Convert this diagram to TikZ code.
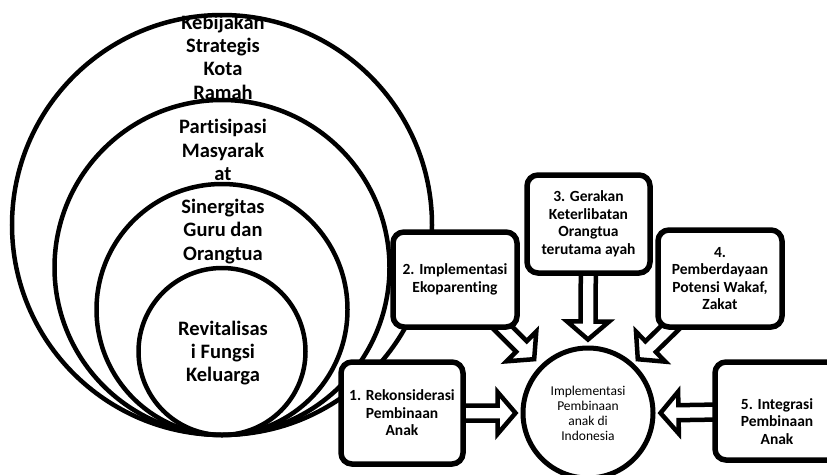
\documentclass[tikz,border=0pt]{standalone}
\usepackage{fontspec}
\setmainfont{Carlito}[Ligatures=NoCommon]
\usetikzlibrary{calc}

% block arrow: white body, thick black outline, from #1 to the tip #2
\newcommand\blockarrow[2]{%
  \draw[blockarrow] let \p1=($(#2)-(#1)$), \n1={atan2(\y1,\x1)}, \n2={veclen(\x1,\y1)} in
    [shift={(#1)}, rotate=\n1]
    (0,7.5) -- (\n2-18,7.5) -- (\n2-18,21) -- (\n2,0) -- (\n2-18,-21) -- (\n2-18,-7.5) -- (0,-7.5) -- cycle;}

\begin{document}
\begin{tikzpicture}[x=1pt,y=-1pt,
  ring/.style={circle, draw, line width=4.5pt, inner sep=0pt},
  ringtext/.style={align=center, inner sep=0pt, font=\bfseries\fontsize{20.5}{23.3}\selectfont},
  stepbox/.style={draw, line width=5.5pt, rounded corners=11pt, fill=white, inner sep=0pt,
    align=center, font=\bfseries\fontsize{15.5}{17.5}\selectfont},
  boxtext/.style={align=center, inner sep=0pt, font=\bfseries\fontsize{15.5}{17.5}\selectfont},
  goal/.style={circle, draw, line width=5pt, fill=white, inner sep=0pt, minimum size=130pt,
    align=center, font=\fontsize{13.5}{15}\selectfont},
  blockarrow/.style={draw, fill=white, line width=4.5pt, line join=miter, miter limit=10},
]
\useasboundingbox (0,0) rectangle (827,474);
\clip (0,0) rectangle (827,474);
\fill[white] (0,0) rectangle (827,474);

% nested circle labels
\node[ringtext] (k1) at (223,57)    {Kebijakan\\Strategis\\Kota\\Ramah};
\node[ringtext] (k2) at (223,150)   {Partisipasi\\Masyarak\\at};
\node[ringtext] (k3) at (223,231.5) {Sinergitas\\Guru dan\\Orangtua};
\node[ringtext] (k4) at (223,353)   {Revitalisas\\i Fungsi\\Keluarga};

% nested circles, all touching at the bottom
\node[ring, minimum size=420pt] (r1) at (222,225)   {};
\node[ring, minimum size=335pt] (r2) at (222,267.5) {};
\node[ring, minimum size=251pt] (r3) at (222,309.5) {};
\node[ring, minimum size=167pt] (r4) at (222,351.5) {};

% central goal
\node[goal] (impl) at (588,413) {Implementasi\\Pembinaan\\anak di\\Indonesia};

% box positions
\coordinate (b1c) at (402,413);
\coordinate (b2c) at (455,279.5);
\coordinate (b3c) at (588.5,224);
\coordinate (b4c) at (720,278.5);
\coordinate (b5c) at (777,411);

\path (b2c) ++(62,47.5) coordinate (b2se);
\path (b4c) ++(-62,48.5) coordinate (b4sw);

% arrow ends
\coordinate (s2) at ($(b2se)+(-27,-12)$);
\coordinate (s4) at ($(b4sw)+(22,-9)$);
\coordinate (t1) at ($(impl.west)+(-5,0)$);
\coordinate (t2) at ($(impl.north west)+(-6,-6)$);
\coordinate (t3) at ($(impl.north)+(0,-6)$);
\coordinate (t4) at ($(impl.north east)+(2,-6)$);
\coordinate (t5) at ($(impl.east)+(5,0)$);

% block arrows towards the goal
\blockarrow{b1c}{t1}
\blockarrow{s2}{t2}
\blockarrow{b3c}{t3}
\blockarrow{s4}{t4}
\blockarrow{b5c}{t5}

% program boxes
\node[stepbox, minimum width=122pt, minimum height=102pt] (b1) at (b1c) {1. Rekonsiderasi\\Pembinaan\\Anak};
\node[stepbox, minimum width=124pt, minimum height=95pt]  (b2) at (b2c) {2. Implementasi\\Ekoparenting};
\node[stepbox, minimum width=123pt, minimum height=98pt]  (b3) at (b3c) {3. Gerakan\\Keterlibatan\\Orangtua\\terutama ayah};
\node[stepbox, minimum width=124pt, minimum height=97pt]  (b4) at (b4c) {4.\\Pemberdayaan\\Potensi Wakaf,\\Zakat};
\node[stepbox, minimum width=124pt, minimum height=98pt]  (b5) at (b5c) {};
\node[boxtext] (l5) at (777,421.5) {5. Integrasi\\Pembinaan\\Anak};
\end{tikzpicture}
\end{document}
